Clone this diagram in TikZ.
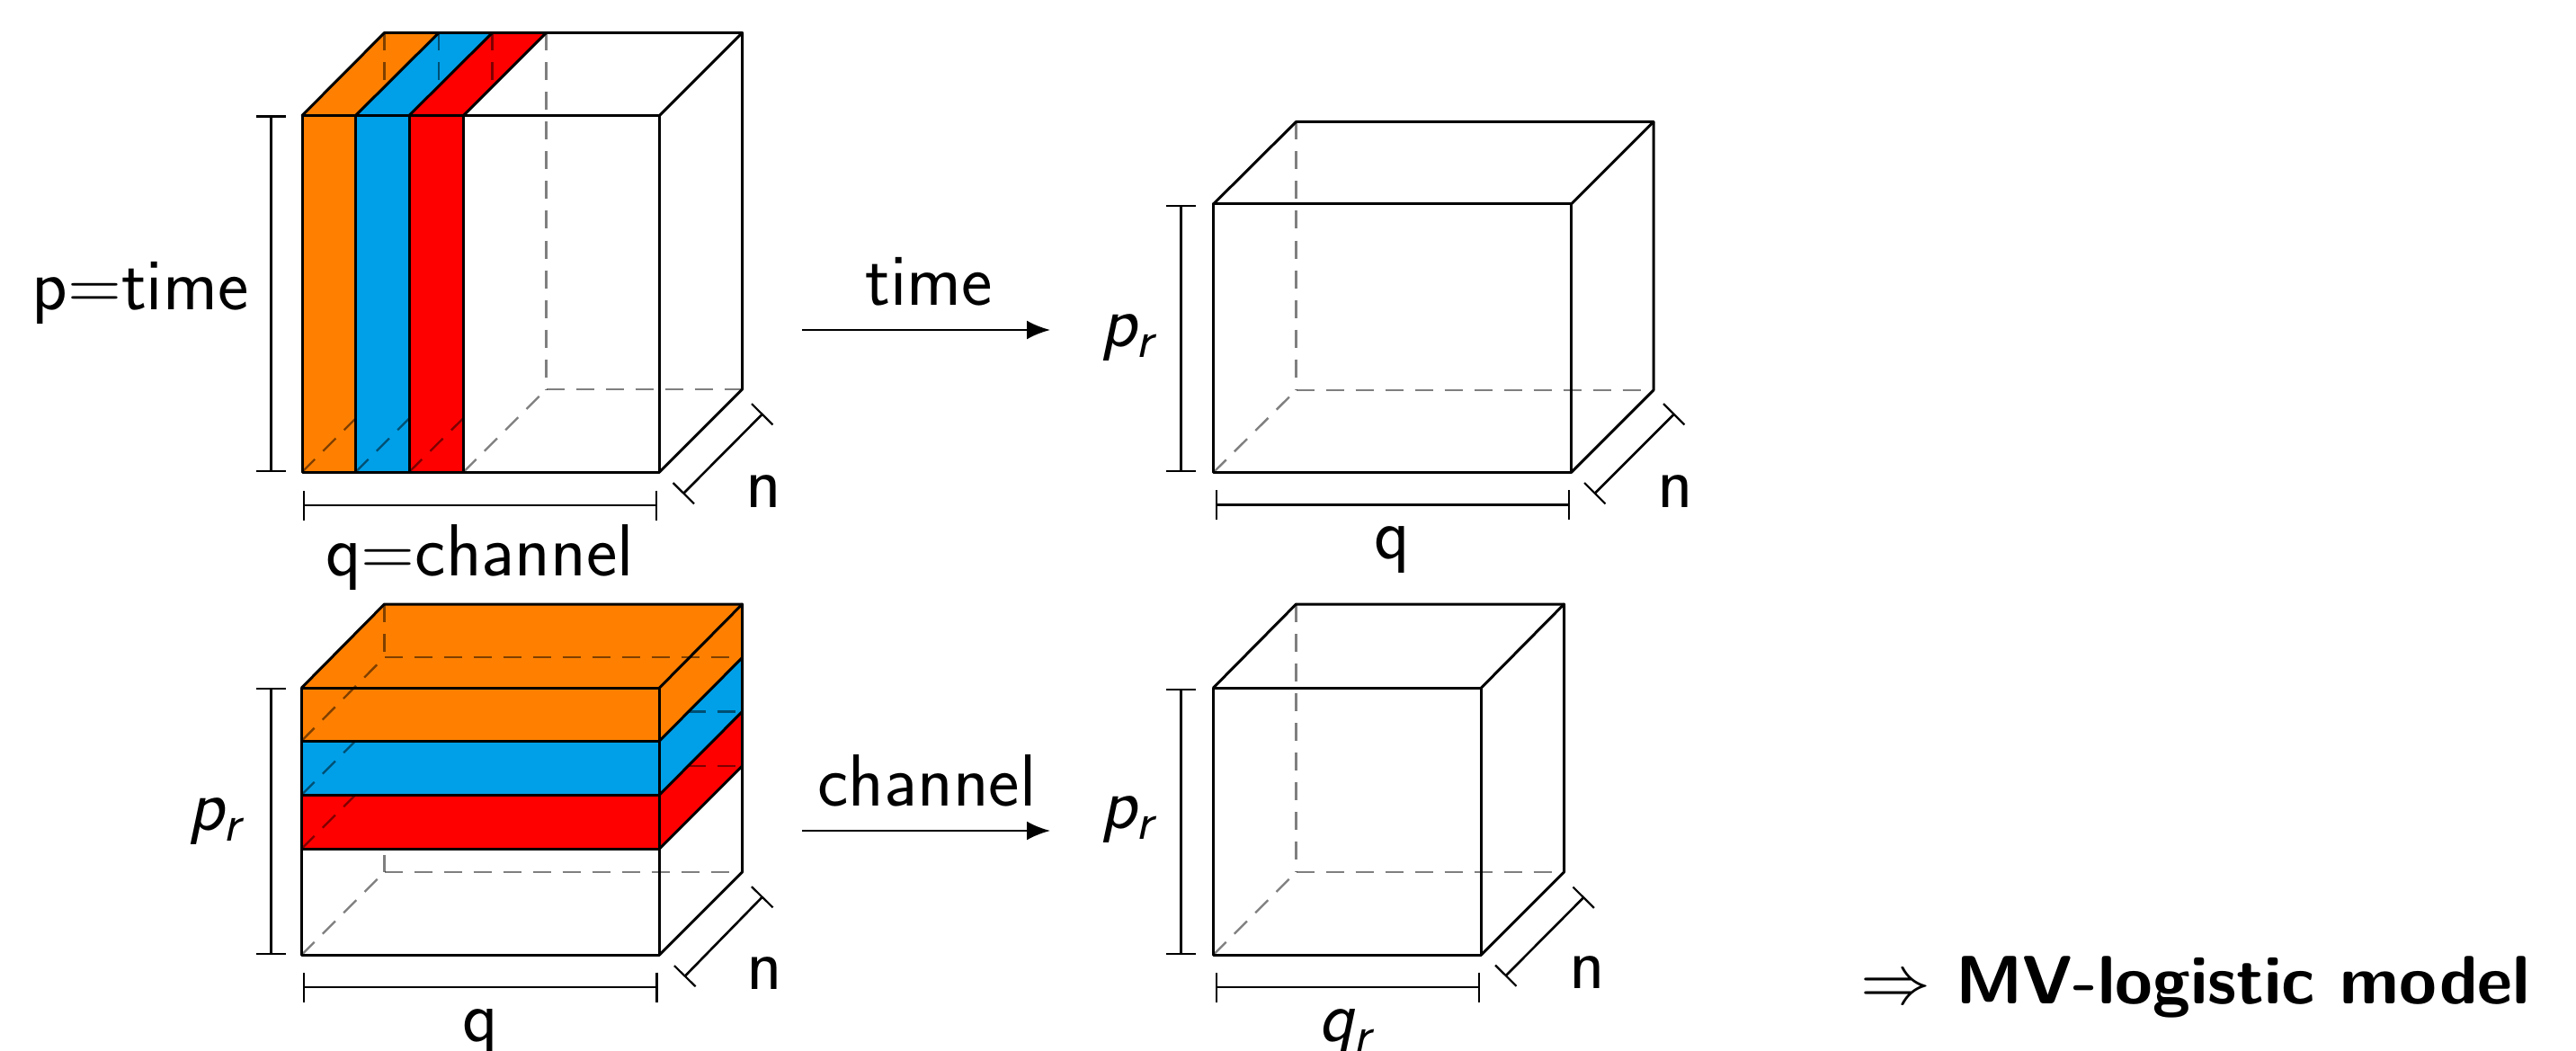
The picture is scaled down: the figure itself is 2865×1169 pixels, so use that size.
\documentclass[tikz,border=0pt]{standalone}
\usetikzlibrary{arrows.meta}
\definecolor{corange}{HTML}{FF8000}
\definecolor{cblue}{HTML}{00A0E8}
\definecolor{cred}{HTML}{FF0000}
\newcommand{\psub}[2]{{\itshape #1}\kern-1pt\raisebox{-12pt}{\fontsize{58}{64}\selectfont\itshape #2}}
\tikzset{
  edge/.style={draw=black,line width=3pt,line cap=round,line join=round},
  hidden/.style={draw=black,opacity=.5,line width=2.4pt,dash pattern=on 20pt off 13pt},
  dim/.style={draw=black,line width=2.6pt,{Bar[width=33pt,line width=2.2pt,length=0pt]}-{Bar[width=33pt,line width=2.2pt,length=0pt]}},
  flow/.style={draw=black,line width=2.6pt,-{Latex[length=26pt,width=21pt]}},
  lab/.style={anchor=base,inner sep=0pt,font=\fontsize{82}{96}\selectfont\sffamily},
  blab/.style={anchor=base west,inner sep=0pt,font=\fontsize{76}{90}\selectfont\sffamily\bfseries},
}
\begin{document}
\begin{tikzpicture}[x=1pt,y=-1pt]
\useasboundingbox (0,0) rectangle (2865,1169);
\fill[white] (0,0) rectangle (2865,1169);

% ---------- top-left cube with vertical slices
\fill[corange] (336,128.5) -- (427.5,36.5) -- (488,36.5) -- (395.5,128.5) -- (395.5,525) -- (336,525) -- cycle;
\fill[cblue] (395.5,128.5) -- (488,36.5) -- (547.5,36.5) -- (455,128.5) -- (455,525) -- (395.5,525) -- cycle;
\fill[cred] (455,128.5) -- (547.5,36.5) -- (607.5,36.5) -- (515.5,128.5) -- (515.5,525) -- (455,525) -- cycle;
\draw[hidden] (427.5,36.5) -- (427.5,97);
\draw[hidden] (488,36.5) -- (488,96);
\draw[hidden] (547.5,36.5) -- (547.5,97);
\draw[hidden] (336,525) -- (395.5,465.5);
\draw[hidden] (395.5,525) -- (455,465.5);
\draw[hidden] (455,525) -- (515.5,465);
\draw[hidden] (607.5,36.5) -- (607.5,433);
\draw[hidden] (515.5,525) -- (607.5,433);
\draw[hidden] (607.5,433) -- (825.5,433);
\draw[edge] (336,128.5) rectangle (733.5,525);
\draw[edge] (395.5,128.5) -- (395.5,525);
\draw[edge] (455,128.5) -- (455,525);
\draw[edge] (515.5,128.5) -- (515.5,525);
\draw[edge] (336,128.5) -- (427.5,36.5) -- (825.5,36.5) -- (825.5,433) -- (733.5,525);
\draw[edge] (733.5,128.5) -- (825.5,36.5);
\draw[edge] (395.5,128.5) -- (488,36.5);
\draw[edge] (455,128.5) -- (547.5,36.5);
\draw[edge] (515.5,128.5) -- (607.5,36.5);

\coordinate (a1) at (301.5,128.5); \coordinate (a2) at (301.5,525);
\draw[dim] (a1) -- (a2);
\coordinate (a3) at (337,562); \coordinate (a4) at (731,562);
\draw[dim] (a3) -- (a4);
\coordinate (a5) at (759.5,549.5); \coordinate (a6) at (848.5,460);
\draw[dim] (a5) -- (a6);
\node[lab] (tp) at (156,344) {p=time};
\node[lab] (tq) at (533.5,640) {q=channel};
\node[lab] (tn1) at (849.5,564) {n};

% ---------- top-right cube
\draw[hidden] (1441.5,135.5) -- (1441.5,434);
\draw[hidden] (1349.5,525.5) -- (1441.5,434);
\draw[hidden] (1441.5,434) -- (1839,434);
\draw[edge] (1349.5,227) rectangle (1747.5,525.5);
\draw[edge] (1349.5,227) -- (1441.5,135.5) -- (1839,135.5) -- (1839,434) -- (1747.5,525.5);
\draw[edge] (1747.5,227) -- (1839,135.5);

\coordinate (b1) at (1313.5,228); \coordinate (b2) at (1313.5,525);
\draw[dim] (b1) -- (b2);
\coordinate (b3) at (1351.5,561.5); \coordinate (b4) at (1746,561.5);
\draw[dim] (b3) -- (b4);
\coordinate (b5) at (1773,549.5); \coordinate (b6) at (1862.5,460);
\draw[dim] (b5) -- (b6);
\node[lab] (tpr1) at (1253,385.5) {\psub{p}{r}};
\node[lab] (tq2) at (1548.5,621) {q};
\node[lab] (tn2) at (1863,564) {n};

% ---------- arrows
\coordinate (f1) at (892,367); \coordinate (f2) at (1168,367);
\draw[flow] (f1) -- (f2);
\node[lab] (ttime) at (1033,339) {time};
\coordinate (f3) at (892,924); \coordinate (f4) at (1168,924);
\draw[flow] (f3) -- (f4);
\node[lab] (tchan) at (1031,896.5) {channel};

% ---------- bottom-left cube with horizontal slices
\fill[corange] (335.5,765) -- (427.5,672) -- (825.5,672) -- (825.5,731.5) -- (733.5,824) -- (335.5,824) -- cycle;
\fill[cblue] (335.5,824) -- (733.5,824) -- (825.5,731.5) -- (825.5,791.5) -- (733.5,884) -- (335.5,884) -- cycle;
\fill[cred] (335.5,884) -- (733.5,884) -- (825.5,791.5) -- (825.5,852) -- (733.5,944) -- (335.5,944) -- cycle;
\draw[hidden] (427.5,672) -- (427.5,731);
\draw[hidden] (427.5,731) -- (825.5,731);
\draw[hidden] (335.5,824) -- (427.5,731);
\draw[hidden] (335.5,884) -- (395.5,824);
\draw[hidden] (764.5,791.5) -- (825.5,791.5);
\draw[hidden] (335.5,944) -- (395.5,884);
\draw[hidden] (764.5,852) -- (825.5,852);
\draw[hidden] (427.5,951) -- (427.5,970);
\draw[hidden] (427.5,970) -- (825.5,970);
\draw[hidden] (335.5,1062) -- (427.5,970);
\draw[edge] (335.5,765) rectangle (733.5,1062);
\draw[edge] (335.5,824) -- (733.5,824);
\draw[edge] (335.5,884) -- (733.5,884);
\draw[edge] (335.5,944) -- (733.5,944);
\draw[edge] (335.5,765) -- (427.5,672) -- (825.5,672) -- (825.5,970) -- (733.5,1062);
\draw[edge] (733.5,765) -- (825.5,672);
\draw[edge] (733.5,824) -- (825.5,731.5);
\draw[edge] (733.5,884) -- (825.5,791.5);
\draw[edge] (733.5,944) -- (825.5,852);

\coordinate (c1) at (301.5,765); \coordinate (c2) at (301.5,1062);
\draw[dim] (c1) -- (c2);
\coordinate (c3) at (337,1098); \coordinate (c4) at (731.5,1098);
\draw[dim] (c3) -- (c4);
\coordinate (c5) at (761,1086.5); \coordinate (c6) at (848.5,997);
\draw[dim] (c5) -- (c6);
\node[lab] (tpr2) at (238,923) {\psub{p}{r}};
\node[lab] (tq3) at (534.5,1158) {q};
\node[lab] (tn3) at (850.5,1100) {n};

% ---------- bottom-right cube
\draw[hidden] (1441.5,672) -- (1441.5,970);
\draw[hidden] (1349.5,1062) -- (1441.5,970);
\draw[hidden] (1441.5,970) -- (1739.5,970);
\draw[edge] (1349.5,765) rectangle (1647.5,1062);
\draw[edge] (1349.5,765) -- (1441.5,672) -- (1739.5,672) -- (1739.5,970) -- (1647.5,1062);
\draw[edge] (1647.5,765) -- (1739.5,672);

\coordinate (d1) at (1313.5,765.5); \coordinate (d2) at (1313.5,1062);
\draw[dim] (d1) -- (d2);
\coordinate (d3) at (1351.5,1098); \coordinate (d4) at (1646,1098);
\draw[dim] (d3) -- (d4);
\coordinate (d5) at (1674,1086); \coordinate (d6) at (1762,997.5);
\draw[dim] (d5) -- (d6);
\node[lab] (tpr3) at (1253,921.5) {\psub{p}{r}};
\node[lab] (tqr) at (1495,1158) {\psub{q}{r}};
\node[lab] (tn4) at (1765,1099.5) {n};

% ---------- conclusion
\node[anchor=base west,inner sep=0pt] (tarrow) at (2069,1116.5) {\scalebox{7.8}{$\Rightarrow$}};
\node[blab] (tmodel) at (2175,1116.5) {MV-logistic model};
\end{tikzpicture}
\end{document}
